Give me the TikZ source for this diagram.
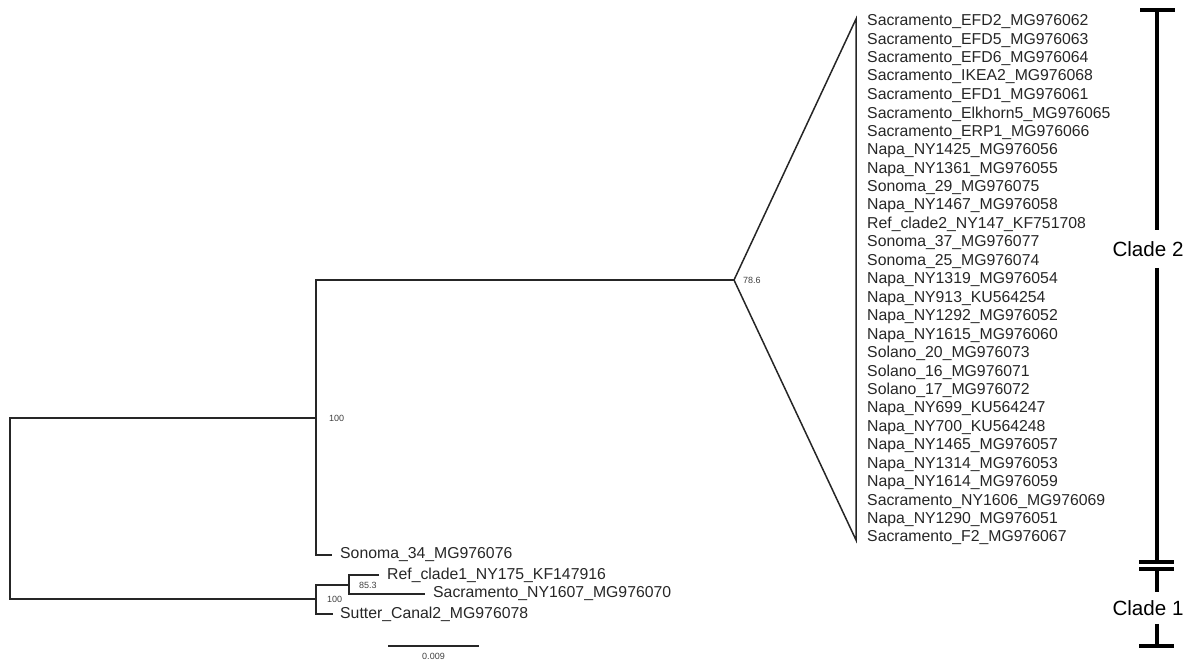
\documentclass[tikz,border=0pt]{standalone}
\usepackage{fontspec}
\setmainfont{Liberation Sans}
\usepackage{tikz}
\usetikzlibrary{positioning}

\newcommand{\leaffont}{\fontsize{15.8}{18}\selectfont}
\newcommand{\suppfont}{\fontsize{9}{10}\selectfont}
\newcommand{\cladefont}{\fontsize{20.6}{24}\selectfont}

\tikzset{
  branch/.style={line width=2pt, black!85},
  tri/.style={line width=1.5pt, black!85, line join=miter},
  leaf/.style={anchor=west, inner sep=0pt, font=\leaffont, text=black!85},
  supp/.style={inner sep=0pt, font=\suppfont, text=black!75},
  bracket/.style={line width=3.5pt, black},
  cladelab/.style={inner xsep=0pt, font=\cladefont, text=black}
}

\begin{document}
\begin{tikzpicture}[x=1pt, y=-1pt]
	\useasboundingbox (0,0) rectangle (1188,663);
	% tree nodes
	\coordinate (root) at (10,508);
	\coordinate (nA) at (316,418);
	\coordinate (nB) at (316,599);
	\coordinate (nC) at (349,585);
	\coordinate (apex) at (734,280);
	\coordinate (tS34) at (332,555);
	\coordinate (tRef) at (379,575);
	\coordinate (tSac) at (425,594);
	\coordinate (tSut) at (333,614);
	\draw[branch] (nA) -| (root) |- (nB);
	\draw[branch] (apex) -| (nA) |- (tS34);
	\draw[branch] (nC) -| (nB) |- (tSut);
	\draw[branch] (tRef) -| (nC) |- (tSac);
	% collapsed clade 2
	\coordinate (tritop) at (856,19);
	\coordinate (tribot) at (856,540);
	\draw[tri] (apex) -- (tritop) -- (tribot) -- cycle;
	\foreach \lab [count=\i from 0] in {Sacramento\_EFD2\_MG976062, Sacramento\_EFD5\_MG976063,
		Sacramento\_EFD6\_MG976064, Sacramento\_IKEA2\_MG976068, Sacramento\_EFD1\_MG976061,
		Sacramento\_Elkhorn5\_MG976065, Sacramento\_ERP1\_MG976066, Napa\_NY1425\_MG976056,
		Napa\_NY1361\_MG976055, Sonoma\_29\_MG976075, Napa\_NY1467\_MG976058,
		Ref\_clade2\_NY147\_KF751708, Sonoma\_37\_MG976077, Sonoma\_25\_MG976074,
		Napa\_NY1319\_MG976054, Napa\_NY913\_KU564254, Napa\_NY1292\_MG976052,
		Napa\_NY1615\_MG976060, Solano\_20\_MG976073, Solano\_16\_MG976071,
		Solano\_17\_MG976072, Napa\_NY699\_KU564247, Napa\_NY700\_KU564248,
		Napa\_NY1465\_MG976057, Napa\_NY1314\_MG976053, Napa\_NY1614\_MG976059,
		Sacramento\_NY1606\_MG976069, Napa\_NY1290\_MG976051, Sacramento\_F2\_MG976067}
		\node at (867,21.7+18.44*\i) [leaf] (leaf\i) {\lab};
	% other tips
	\node[leaf, right=8pt of tS34] (lS34) {Sonoma\_34\_MG976076};
	\node[leaf, right=8pt of tRef] (lRef) {Ref\_clade1\_NY175\_KF147916};
	\node[leaf, right=8pt of tSac] (lSac) {Sacramento\_NY1607\_MG976070};
	\node[leaf, right=7pt of tSut] (lSut) {Sutter\_Canal2\_MG976078};
	% support values
	\node[supp, right=13pt of nA] (sA) {100};
	\node[supp, right=9pt of apex] (sX) {78.6};
	\node[supp, right=10pt of nC] (sC) {85.3};
	\node[supp, right=11pt of nB] (sB) {100};
	% scale bar
	\coordinate (sbl) at (388,646);
	\coordinate (sbr) at (479,646);
	\draw[line width=1.3pt, black!85] (sbl) -- (sbr) node[supp, midway, below=7pt] (sbt) {0.009};
	% clade brackets
	\coordinate (c2top) at (1157,10);
	\coordinate (c2bot) at (1157,562);
	\coordinate (c1top) at (1157,569);
	\coordinate (c1bot) at (1157,646);
	\node at (1148,249) [cladelab, inner ysep=11pt] (c2) {Clade 2};
	\node at (1148,608) [cladelab, inner ysep=8pt] (c1) {Clade 1};
	\draw[bracket] ([xshift=-17pt]c2top) -- ([xshift=18pt]c2top);
	\draw[bracket] (c2top) -- (c2top |- c2.north);
	\draw[bracket] (c2top |- c2.south) -- (c2bot);
	\draw[bracket] ([xshift=-18pt]c2bot) -- ([xshift=17pt]c2bot);
	\draw[bracket] ([xshift=-18pt]c1top) -- ([xshift=17pt]c1top);
	\draw[bracket] (c1top) -- (c1top |- c1.north);
	\draw[bracket] (c1top |- c1.south) -- (c1bot);
	\draw[bracket] ([xshift=-18pt]c1bot) -- ([xshift=17pt]c1bot);
\end{tikzpicture}
\end{document}
